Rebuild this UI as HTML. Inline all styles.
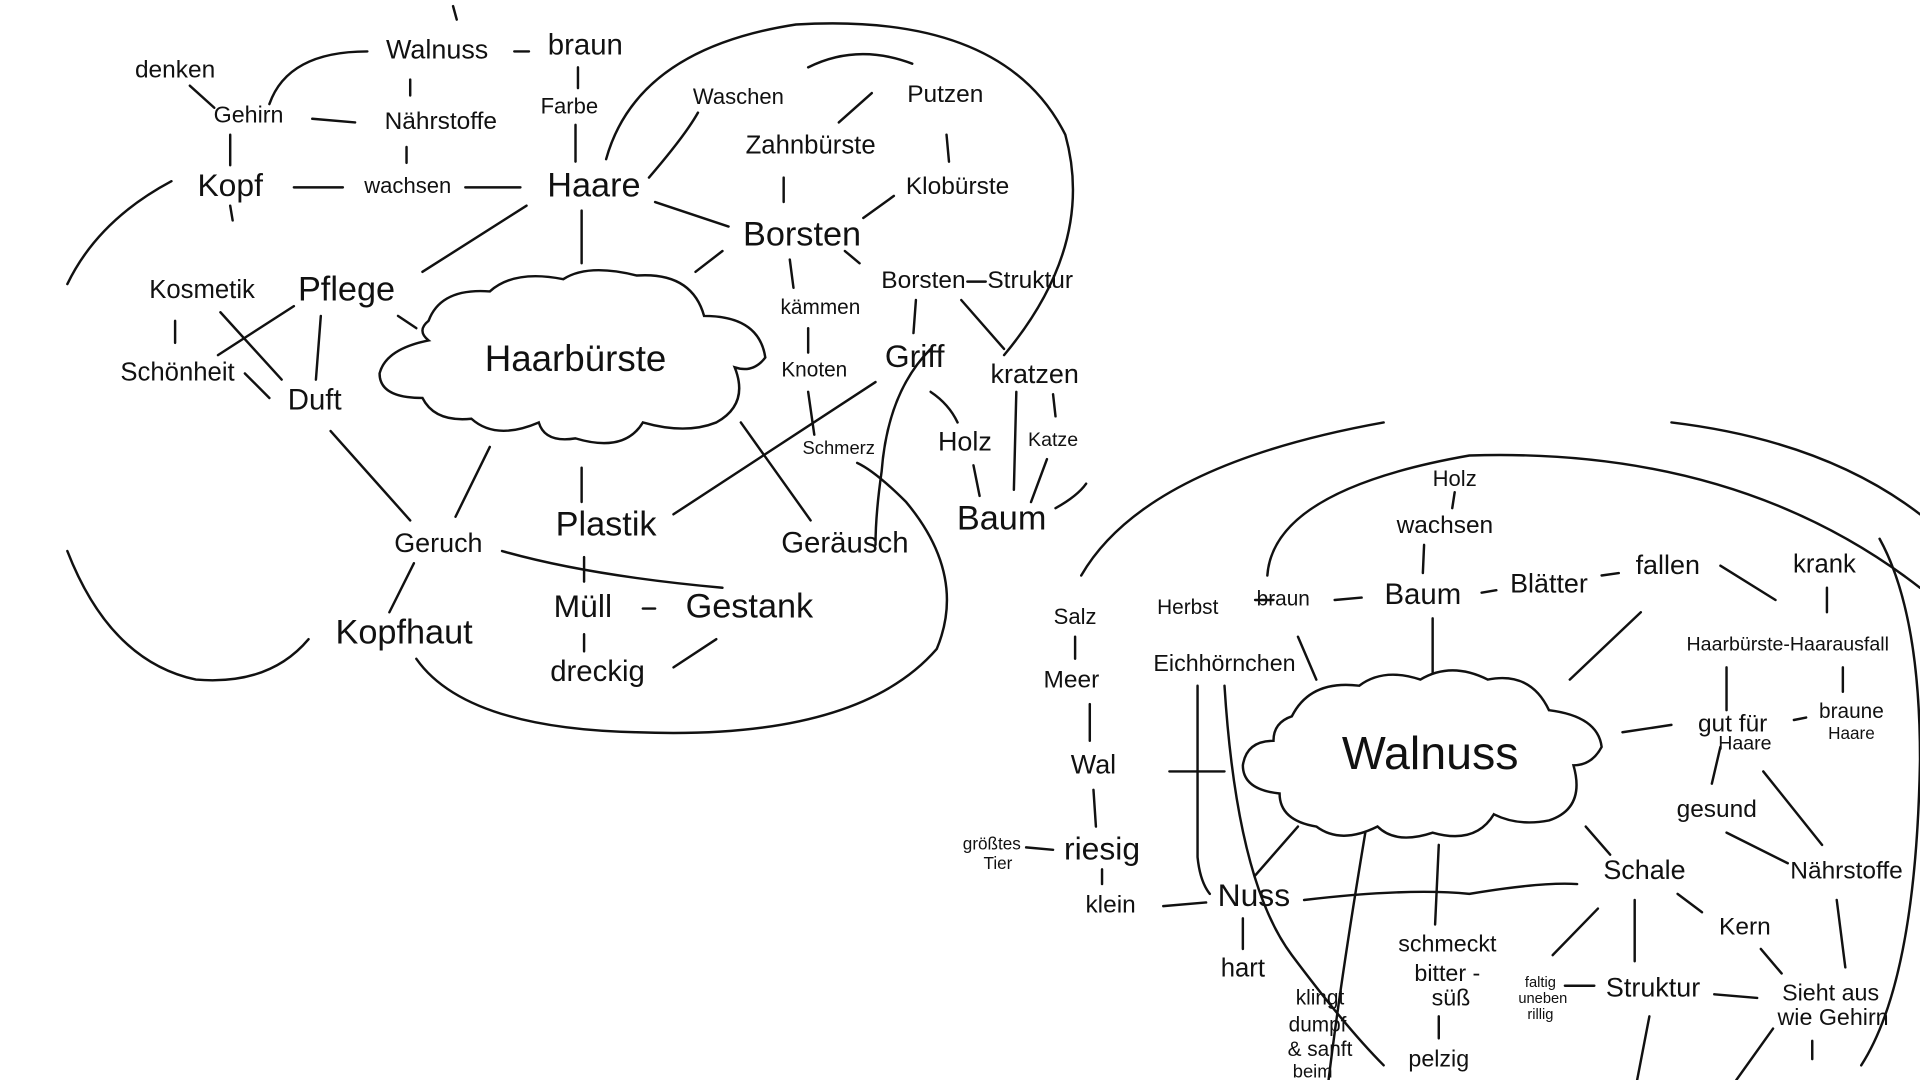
<!DOCTYPE html>
<html><head><meta charset="utf-8"><style>
html,body{margin:0;padding:0;background:#fff;width:1920px;height:1080px;overflow:hidden}
svg{display:block}
text{font-family:"Liberation Sans",sans-serif;fill:#111;text-anchor:middle;dominant-baseline:middle;font-weight:300}
path,line{stroke:#111;stroke-width:2;fill:none;stroke-linecap:round}
</style></head><body>
<svg width="1920" height="1080" viewBox="0 0 1568 882">
<rect width="1568" height="882" fill="#fff"/>
<!-- LEFT MAP big arcs -->
<path d="M140,148 Q80,180 55,232"/>
<path d="M55,450 Q90,540 160,555 Q220,560 252,522"/>
<path d="M495,130 Q520,40 650,20 Q820,10 870,110 Q895,200 820,290"/>
<path d="M340,538 Q380,595 520,598 Q700,605 765,530 Q790,470 740,410 Q715,385 700,378"/>
<path d="M862,415 Q880,405 887,395"/>
<!-- Haarbürste cloud -->
<path d="M350,262 Q360,235 400,238 Q420,220 460,228 Q480,215 520,225 Q565,222 575,258 Q620,258 625,292 Q615,305 600,300 Q612,330 585,345 Q560,355 525,345 Q510,370 470,358 Q445,362 440,345 Q405,360 385,342 Q355,345 345,325 Q310,325 310,305 Q315,285 350,278 Q340,270 350,262 Z"/>
<!-- left lines -->
<path d="M155,70 L175,88"/><path d="M220,85 Q235,42 300,42"/>
<line x1="420" y1="42" x2="432" y2="42"/><line x1="472" y1="55" x2="472" y2="72"/>
<line x1="255" y1="97" x2="290" y2="100"/><line x1="335" y1="65" x2="335" y2="78"/>
<line x1="188" y1="110" x2="188" y2="135"/><line x1="240" y1="153" x2="280" y2="153"/>
<line x1="332" y1="120" x2="332" y2="133"/><line x1="380" y1="153" x2="425" y2="153"/>
<line x1="470" y1="102" x2="470" y2="132"/><line x1="188" y1="168" x2="190" y2="180"/>
<path d="M530,145 Q560,110 570,92"/><path d="M660,55 Q700,35 745,52"/>
<line x1="685" y1="100" x2="712" y2="76"/><line x1="773" y1="110" x2="775" y2="132"/>
<line x1="640" y1="145" x2="640" y2="165"/><line x1="705" y1="178" x2="730" y2="160"/>
<line x1="535" y1="165" x2="595" y2="185"/><line x1="475" y1="172" x2="475" y2="215"/>
<line x1="430" y1="168" x2="345" y2="222"/><line x1="590" y1="205" x2="568" y2="222"/>
<line x1="690" y1="205" x2="702" y2="215"/><line x1="645" y1="212" x2="648" y2="235"/>
<line x1="660" y1="268" x2="660" y2="288"/><line x1="748" y1="245" x2="746" y2="272"/>
<line x1="785" y1="245" x2="820" y2="285"/><line x1="790" y1="230" x2="805" y2="230"/>
<line x1="325" y1="258" x2="340" y2="268"/><line x1="143" y1="262" x2="143" y2="280"/>
<line x1="180" y1="255" x2="230" y2="310"/><line x1="240" y1="250" x2="178" y2="290"/>
<line x1="262" y1="258" x2="258" y2="310"/><line x1="200" y1="305" x2="220" y2="325"/>
<line x1="270" y1="352" x2="335" y2="425"/><line x1="400" y1="365" x2="372" y2="422"/>
<line x1="475" y1="382" x2="475" y2="410"/><line x1="605" y1="345" x2="662" y2="425"/>
<line x1="715" y1="312" x2="550" y2="420"/><line x1="660" y1="320" x2="665" y2="355"/>
<path d="M760,320 Q775,330 782,345"/><path d="M760,285 Q725,320 720,385 Q715,420 715,445"/>
<line x1="830" y1="320" x2="828" y2="400"/><line x1="860" y1="322" x2="862" y2="340"/>
<line x1="855" y1="375" x2="842" y2="410"/><line x1="795" y1="380" x2="800" y2="405"/>
<path d="M410,450 Q480,470 590,480"/><line x1="477" y1="455" x2="477" y2="475"/>
<line x1="525" y1="497" x2="535" y2="497"/><line x1="477" y1="518" x2="477" y2="532"/>
<line x1="585" y1="522" x2="550" y2="545"/><line x1="338" y1="460" x2="318" y2="500"/>
<line x1="370" y1="5" x2="373" y2="16"/>
<!-- left labels -->
<text x="143" y="58" font-size="20">denken</text>
<text x="203" y="95" font-size="19">Gehirn</text>
<text x="357" y="42" font-size="22">Walnuss</text>
<text x="478" y="38" font-size="24">braun</text>
<text x="360" y="100" font-size="20">Nährstoffe</text>
<text x="465" y="88" font-size="18">Farbe</text>
<text x="188" y="153" font-size="26">Kopf</text>
<text x="333" y="153" font-size="18">wachsen</text>
<text x="485" y="153" font-size="28">Haare</text>
<text x="603" y="80" font-size="18">Waschen</text>
<text x="772" y="78" font-size="20">Putzen</text>
<text x="662" y="120" font-size="21">Zahnbürste</text>
<text x="782" y="153" font-size="20">Klobürste</text>
<text x="655" y="193" font-size="28">Borsten</text>
<text x="798" y="230" font-size="20">Borsten - Struktur</text>
<text x="165" y="238" font-size="21">Kosmetik</text>
<text x="283" y="238" font-size="28">Pflege</text>
<text x="145" y="305" font-size="21">Schönheit</text>
<text x="257" y="328" font-size="24">Duft</text>
<text x="470" y="295" font-size="30">Haarbürste</text>
<text x="670" y="252" font-size="17">kämmen</text>
<text x="665" y="303" font-size="17">Knoten</text>
<text x="747" y="293" font-size="26">Griff</text>
<text x="845" y="307" font-size="22">kratzen</text>
<text x="685" y="367" font-size="15">Schmerz</text>
<text x="788" y="362" font-size="22">Holz</text>
<text x="860" y="360" font-size="16">Katze</text>
<text x="818" y="425" font-size="28">Baum</text>
<text x="358" y="445" font-size="22">Geruch</text>
<text x="495" y="430" font-size="28">Plastik</text>
<text x="690" y="445" font-size="24">Geräusch</text>
<text x="476" y="497" font-size="26">Müll</text>
<text x="612" y="497" font-size="28">Gestank</text>
<text x="330" y="518" font-size="28">Kopfhaut</text>
<text x="488" y="550" font-size="24">dreckig</text>
<!-- RIGHT MAP arcs -->
<path d="M883,470 Q935,380 1130,345"/>
<path d="M1365,345 Q1490,360 1568,420"/>
<path d="M1035,470 Q1040,400 1200,372 Q1420,365 1568,480"/>
<!-- Walnuss cloud -->
<path d="M1055,585 Q1070,555 1110,560 Q1130,545 1160,555 Q1185,540 1215,555 Q1250,548 1265,580 Q1305,585 1308,610 Q1300,625 1285,625 Q1295,660 1265,670 Q1240,675 1220,665 Q1205,690 1170,680 Q1140,690 1125,675 Q1095,690 1075,675 Q1045,670 1045,648 Q1015,645 1015,625 Q1018,605 1040,605 Q1040,590 1055,585 Z"/>
<!-- right lines -->
<line x1="1188" y1="402" x2="1186" y2="415"/><line x1="1163" y1="445" x2="1162" y2="468"/>
<line x1="1025" y1="490" x2="1040" y2="490"/><line x1="1090" y1="490" x2="1112" y2="488"/>
<line x1="1210" y1="484" x2="1222" y2="482"/><line x1="1308" y1="470" x2="1322" y2="468"/>
<line x1="1405" y1="462" x2="1450" y2="490"/><line x1="1492" y1="480" x2="1492" y2="500"/>
<line x1="1170" y1="505" x2="1170" y2="550"/><line x1="1340" y1="500" x2="1282" y2="555"/>
<line x1="1060" y1="520" x2="1075" y2="555"/><line x1="1410" y1="545" x2="1410" y2="580"/>
<line x1="1505" y1="545" x2="1505" y2="565"/><line x1="1325" y1="598" x2="1365" y2="592"/>
<line x1="1465" y1="588" x2="1475" y2="586"/>
<line x1="1405" y1="610" x2="1398" y2="640"/><line x1="1440" y1="630" x2="1488" y2="690"/>
<line x1="1410" y1="680" x2="1460" y2="705"/><line x1="1295" y1="675" x2="1315" y2="698"/>
<line x1="878" y1="520" x2="878" y2="538"/><line x1="890" y1="575" x2="890" y2="605"/>
<line x1="955" y1="630" x2="1000" y2="630"/><line x1="893" y1="645" x2="895" y2="675"/>
<line x1="838" y1="692" x2="860" y2="694"/><line x1="900" y1="710" x2="900" y2="722"/>
<line x1="950" y1="740" x2="985" y2="737"/>
<path d="M978,560 L978,700 Q980,720 988,730"/>
<path d="M1000,560 Q1010,720 1055,780 Q1100,840 1130,870"/>
<line x1="1060" y1="675" x2="1025" y2="715"/><line x1="1015" y1="750" x2="1015" y2="775"/>
<path d="M1065,735 Q1150,725 1200,730 Q1260,720 1288,722"/>
<path d="M1115,680 Q1095,800 1085,882"/><line x1="1175" y1="690" x2="1172" y2="755"/>
<line x1="1175" y1="830" x2="1175" y2="848"/><line x1="1335" y1="735" x2="1335" y2="785"/>
<line x1="1370" y1="730" x2="1390" y2="745"/><line x1="1305" y1="742" x2="1268" y2="780"/>
<line x1="1278" y1="805" x2="1302" y2="805"/><line x1="1400" y1="812" x2="1435" y2="815"/>
<line x1="1438" y1="775" x2="1455" y2="795"/><line x1="1500" y1="735" x2="1507" y2="790"/>
<line x1="1347" y1="830" x2="1337" y2="882"/><line x1="1448" y1="840" x2="1418" y2="882"/>
<line x1="1480" y1="850" x2="1480" y2="865"/>
<path d="M1535,440 Q1568,500 1568,620 Q1565,800 1520,870"/>
<!-- right labels -->
<text x="1188" y="392" font-size="18">Holz</text>
<text x="1180" y="430" font-size="20">wachsen</text>
<text x="878" y="505" font-size="18">Salz</text>
<text x="970" y="497" font-size="17">Herbst</text>
<text x="1048" y="490" font-size="17">braun</text>
<text x="1162" y="487" font-size="24">Baum</text>
<text x="1265" y="478" font-size="22">Blätter</text>
<text x="1362" y="463" font-size="22">fallen</text>
<text x="1490" y="462" font-size="21">krank</text>
<text x="1000" y="543" font-size="19">Eichhörnchen</text>
<text x="875" y="556" font-size="20">Meer</text>
<text x="1460" y="527" font-size="16">Haarbürste-Haarausfall</text>
<text x="893" y="626" font-size="22">Wal</text>
<text x="1168" y="618" font-size="38">Walnuss</text>
<text x="1415" y="592" font-size="20">gut für</text>
<text x="1425" y="608" font-size="16">Haare</text>
<text x="1512" y="582" font-size="17">braune</text>
<text x="1512" y="600" font-size="14">Haare</text>
<text x="1402" y="662" font-size="20">gesund</text>
<text x="1508" y="712" font-size="20">Nährstoffe</text>
<text x="810" y="690" font-size="14">größtes</text>
<text x="815" y="706" font-size="14">Tier</text>
<text x="900" y="695" font-size="26">riesig</text>
<text x="907" y="740" font-size="20">klein</text>
<text x="1024" y="733" font-size="26">Nuss</text>
<text x="1343" y="712" font-size="22">Schale</text>
<text x="1425" y="758" font-size="20">Kern</text>
<text x="1015" y="792" font-size="21">hart</text>
<text x="1182" y="772" font-size="19">schmeckt</text>
<text x="1182" y="796" font-size="19">bitter -</text>
<text x="1185" y="816" font-size="19">süß</text>
<text x="1078" y="816" font-size="17">klingt</text>
<text x="1076" y="838" font-size="17">dumpf</text>
<text x="1078" y="858" font-size="17">&amp; sanft</text>
<text x="1072" y="876" font-size="15">beim</text>
<text x="1350" y="808" font-size="22">Struktur</text>
<text x="1258" y="803" font-size="12">faltig</text>
<text x="1260" y="816" font-size="12">uneben</text>
<text x="1258" y="829" font-size="12">rillig</text>
<text x="1495" y="812" font-size="19">Sieht aus</text>
<text x="1497" y="832" font-size="19">wie Gehirn</text>
<text x="1175" y="866" font-size="19">pelzig</text>
</svg>
</body></html>
